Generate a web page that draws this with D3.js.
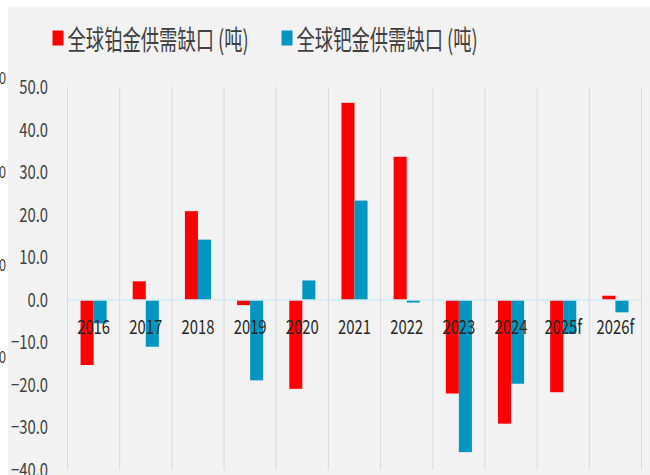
<!DOCTYPE html>
<html>
<head>
<meta charset="utf-8">
<script src="https://cdn.jsdelivr.net/npm/d3@7"></script>
<style>
  html, body { margin: 0; padding: 0; background: #fff; }
  svg { display: block; }
</style>
</head>
<body>
<svg id="chart"></svg>
<script>
// data (tonnes)
const years = ['2016', '2017', '2018', '2019', '2020', '2021', '2022', '2023', '2024', '2025f', '2026f'];
const platinum = [-15.3, 4.4, 20.9, -1.2, -20.9, 46.4, 33.7, -22.0, -29.1, -21.7, 1.0];
const palladium = [-5.5, -11.0, 14.2, -18.9, 4.6, 23.4, -0.6, -35.8, -19.7, -8.0, -2.9];
const seriesNames = ['全球铂金供需缺口 (吨)', '全球钯金供需缺口 (吨)'];
const seriesColors = ['#ff0000', '#0096c1'];
const yTicks = [50, 40, 30, 20, 10, 0, -10, -20, -30, -40];

const width = 650, height = 475;
// the source picture is squeezed horizontally; draw in a stretched frame and squeeze back
const SX = 0.78;
const FONT = '"Noto Sans CJK SC", "Noto Sans", sans-serif';

const svg = d3.select('#chart')
  .attr('width', width)
  .attr('height', height);

svg.append('rect').attr('width', width).attr('height', height).attr('fill', '#ffffff');
svg.append('rect')
  .attr('x', 8).attr('y', 7)
  .attr('width', width - 8).attr('height', height - 7)
  .attr('fill', '#f2f2f2');

const root = svg.append('g').attr('transform', `scale(${SX},1)`);

const rows = years.map((y, i) => ({ year: y, values: [platinum[i], palladium[i]] }));

const x = d3.scaleBand()
  .domain(years)
  .range([67.5 / SX, 641.5 / SX])
  .padding(0);

const x1 = d3.scaleBand()
  .domain([0, 1])
  .range([0, x.bandwidth()])
  .paddingOuter(1.0)
  .paddingInner(0);

const y = d3.scaleLinear()
  .domain([-40, 50])
  .range([470, 87.5]);

// vertical category separators
root.append('g')
  .selectAll('line')
  .data(years.concat(['end']))
  .join('line')
    .attr('x1', (d, i) => x.range()[0] + i * x.bandwidth())
    .attr('x2', (d, i) => x.range()[0] + i * x.bandwidth())
    .attr('y1', y(50))
    .attr('y2', y(-40))
    .attr('stroke', '#d9d9d9')
    .attr('stroke-width', 1.3);

// y axis labels
root.append('g')
  .attr('transform', `translate(${48 / SX},0)`)
  .call(d3.axisLeft(y).tickValues(yTicks).tickFormat(d3.format('.1f')).tickSize(0).tickPadding(0))
  .call(g => g.select('.domain').remove())
  .call(g => g.selectAll('text')
    .attr('font-family', FONT)
    .attr('font-size', 19)
    .attr('fill', '#404040'));

// bars
root.append('g')
  .selectAll('g')
  .data(rows)
  .join('g')
    .attr('transform', d => `translate(${x(d.year)},0)`)
  .selectAll('rect')
  .data(d => d.values.map((v, k) => ({ k, v })))
  .join('rect')
    .attr('x', d => x1(d.k))
    .attr('width', x1.bandwidth())
    .attr('y', d => y(Math.max(0, d.v)))
    .attr('height', d => Math.abs(y(d.v) - y(0)))
    .attr('fill', d => seriesColors[d.k]);

// zero line
root.append('line')
  .attr('x1', x.range()[0]).attr('x2', x.range()[1])
  .attr('y1', y(0)).attr('y2', y(0))
  .attr('stroke', '#cfeaf5')
  .attr('stroke-width', 1.5);

// category labels sit right under the zero line
root.append('g')
  .selectAll('text')
  .data(years)
  .join('text')
    .attr('x', d => x(d) + x.bandwidth() / 2)
    .attr('y', y(0) + 34)
    .attr('text-anchor', 'middle')
    .attr('font-family', FONT)
    .attr('font-size', 19)
    .attr('fill', '#262626')
    .text(d => d);

// legend
const legendX = [52.5, 281.5];
const legend = root.append('g')
  .selectAll('g')
  .data(seriesNames)
  .join('g')
    .attr('transform', (d, i) => `translate(${legendX[i] / SX},0)`);

legend.append('rect')
  .attr('x', 0).attr('y', 30.5)
  .attr('width', 11 / SX).attr('height', 15)
  .attr('fill', (d, i) => seriesColors[i]);

legend.append('text')
  .attr('transform', `translate(${15 / SX},50) scale(0.87,1)`)
  .attr('font-family', FONT)
  .attr('font-size', 27)
  .attr('fill', '#404040')
  .text(d => d);

// clipped labels of a neighbouring axis peeking in at the left edge
root.append('g')
  .selectAll('text')
  .data([78, 172, 265, 357])
  .join('text')
    .attr('x', 6 / SX)
    .attr('y', d => d + 6)
    .attr('text-anchor', 'end')
    .attr('font-family', FONT)
    .attr('font-size', 17)
    .attr('fill', '#404040')
    .text('0');
</script>
</body>
</html>
